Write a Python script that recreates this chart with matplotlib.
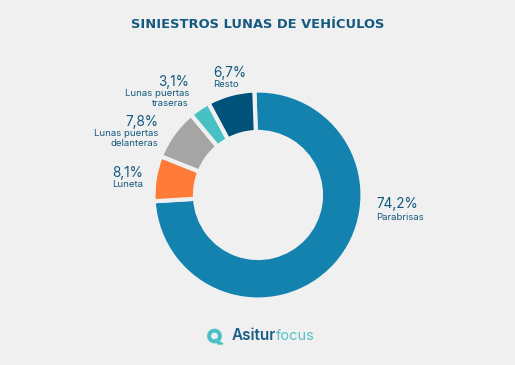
import matplotlib
matplotlib.use('Agg')
import matplotlib.pyplot as plt
from matplotlib.patches import Circle, Polygon

plt.rcParams['font.family'] = ['Inter', 'DejaVu Sans']

title = 'SINIESTROS LUNAS DE VEHÍCULOS'
# tamano de cada sector medido en la imagen (no coincide del todo con las etiquetas)
valores = [74.6, 7.0, 7.9, 3.2, 7.3]
etiquetas = ['74,2%', '8,1%', '7,8%', '3,1%', '6,7%']
nombres = ['Parabrisas', 'Luneta', 'Lunas puertas\ndelanteras', 'Lunas puertas\ntraseras', 'Resto']
colores = ['#1382ae', '#ff7c38', '#a5a5a5', '#47c1c4', '#00527b']

# posicion del texto en pixeles: x, y del porcentaje, y del nombre, alineacion
pos = [(376, 204, 217, 'left'),
       (143, 173, 184.5, 'right'),
       (158, 122, 138.5, 'right'),
       (189, 82, 98.5, 'right'),
       (213, 73, 84.5, 'left')]

fondo = '#f0f0f0'
azul = '#14597f'

fig = plt.figure(figsize=(5.15, 3.65), dpi=100, facecolor=fondo)
ax = fig.add_axes([0, 0, 1, 1])

ax.pie(valores, colors=colores, startangle=92, counterclock=False,
       center=(258, 365 - 195), radius=104.5,
       wedgeprops=dict(width=41.5, edgecolor=fondo, linewidth=3))
ax.set_xlim(0, 515)
ax.set_ylim(0, 365)
ax.axis('off')

ax.text(258, 365 - 25, title, ha='center', va='center', fontsize=9.4,
        fontweight='bold', color=azul, family=['DejaVu Sans'])

for i in range(len(valores)):
    x, y1, y2, al = pos[i]
    ax.text(x, 365 - y1, etiquetas[i], ha=al, va='center', fontsize=9.8,
            color=azul)
    ax.text(x, 365 - y2, nombres[i], ha=al, va='center', fontsize=6.9,
            color=azul, linespacing=1.1)

# logo
ax.add_patch(Circle((214.5, 365 - 336), 5.4, fill=False, edgecolor='#47c1c4', linewidth=2.8))
ax.add_patch(Polygon([(215, 365 - 339), (223, 365 - 344), (218, 365 - 344)], color='#47c1c4'))
t = ax.text(232, 365 - 336, 'Asitur', ha='left', va='center', fontsize=11,
            fontweight='semibold', color='#1c5d85')
fig.canvas.draw()
bb = t.get_window_extent()
ax.text(bb.x1, 365 - 336, 'focus', ha='left', va='center', fontsize=10.5,
        color='#55c3c9')

fig.savefig('out.png', dpi=100, facecolor=fondo)
